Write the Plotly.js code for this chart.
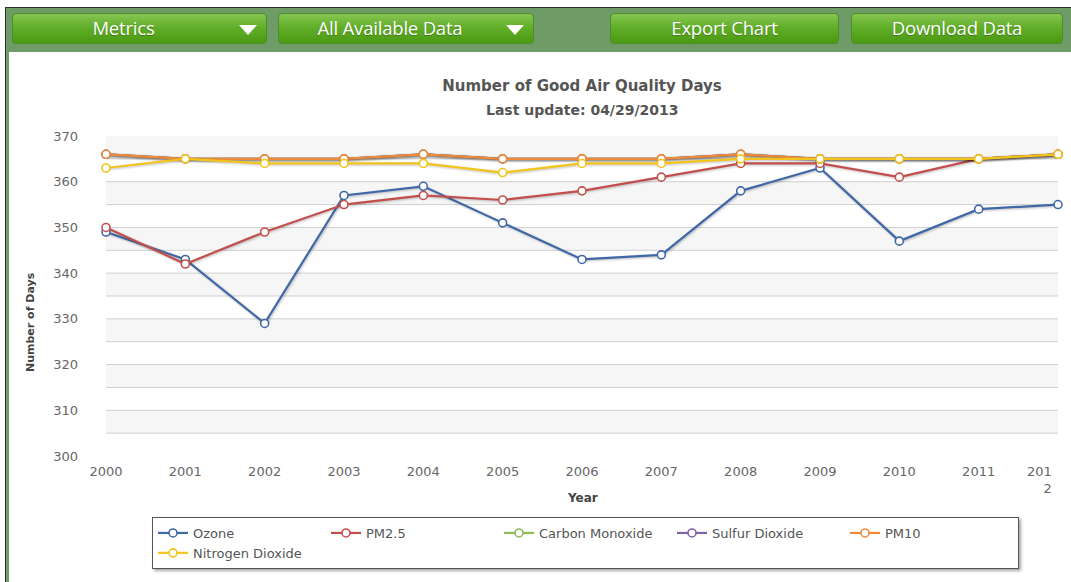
<!DOCTYPE html>
<html>
<head>
<meta charset="utf-8">
<script src="https://cdn.plot.ly/plotly-3.0.1.min.js"></script>
<style>
  html, body { margin:0; padding:0; background:#fff; width:1071px; height:582px; overflow:hidden; }
  #bar { position:absolute; left:5px; top:7px; width:1066px; height:45px; background:#6f9b66;
         border-top:1px solid #2b2b2b; border-left:1px solid #2b2b2b; z-index:2; box-sizing:border-box; }
  #leftline { position:absolute; left:5px; top:52px; width:4px; height:530px; background:#6f9b66;
              border-left:1px solid #2b2b2b; box-sizing:border-box; z-index:2; }
  .btn { position:absolute; top:13px; height:31px; border-radius:4px; box-sizing:border-box;
         background:linear-gradient(to bottom, #86c652 0%, #62ae2a 45%, #4b9a12 100%);
         border:1px solid #4d8c2a; color:#fff; font-family:"Open Sans", sans-serif; font-size:18.5px;
         line-height:27px; text-align:center; text-shadow:0 1px 1px rgba(0,0,0,0.25); z-index:3; letter-spacing:-0.2px; }
  .btn .arrow { position:absolute; right:9px; top:11px; width:0; height:0;
         border-left:9px solid transparent; border-right:9px solid transparent; border-top:10px solid #fff; }
  .btn .lbl { display:inline-block; }
  #chart { position:absolute; left:0; top:0; width:1071px; height:582px; z-index:1; }
  #chart .legend .bg { filter: drop-shadow(2px 2px 1.5px rgba(0,0,0,0.35)); }
  #chart .scatterlayer .js-line { filter: drop-shadow(1px 1px 1px rgba(0,0,0,0.25)); }
</style>
</head>
<body>
<div id="bar"></div>
<div id="leftline"></div>
<div class="btn" style="left:12px; width:255px;"><span class="lbl" style="margin-right:32px;">Metrics</span><span class="arrow"></span></div>
<div class="btn" style="left:278px; width:256px;"><span class="lbl" style="margin-right:32px;">All Available Data</span><span class="arrow"></span></div>
<div class="btn" style="left:610px; width:229px;"><span class="lbl">Export Chart</span></div>
<div class="btn" style="left:851px; width:212px;"><span class="lbl">Download Data</span></div>
<div id="chart"></div>
<script>
// ---- data ----
const years = [2000, 2001, 2002, 2003, 2004, 2005, 2006, 2007, 2008, 2009, 2010, 2011, 2012];
const yearLabels = ["2000", "2001", "2002", "2003", "2004", "2005", "2006", "2007", "2008", "2009", "2010", "2011", "201<br>2"];
const ozone           = [349, 343, 329, 357, 359, 351, 343, 344, 358, 363, 347, 354, 355];
const pm25            = [350, 342, 349, 355, 357, 356, 358, 361, 364, 364, 361, 365, 366];
const carbonMonoxide  = [366, 365, 365, 365, 366, 365, 365, 365, 366, 365, 365, 365, 366];
const sulfurDioxide   = [366, 365, 365, 365, 366, 365, 365, 365, 366, 365, 365, 365, 366];
const pm10            = [366, 365, 365, 365, 366, 365, 365, 365, 366, 365, 365, 365, 366];
const nitrogenDioxide = [363, 365, 364, 364, 364, 362, 364, 364, 365, 365, 365, 365, 366];
const yTicks = [300, 310, 320, 330, 340, 350, 360, 370];
const seriesNames = ["Ozone", "PM2.5", "Carbon Monoxide", "Sulfur Dioxide", "PM10", "Nitrogen Dioxide"];

const seriesData = [ozone, pm25, carbonMonoxide, sulfurDioxide, pm10, nitrogenDioxide];
const colors = ["#4068a6", "#c24f4c", "#8dbb55", "#7f64a6", "#f08a3a", "#f2c41c"];

const traces = seriesData.map((vals, i) => ({
  type: "scatter", mode: "lines+markers", name: seriesNames[i],
  x: years, y: vals, cliponaxis: false,
  line: { color: colors[i], width: 2.2 },
  marker: { symbol: "circle", size: 8, color: "#ffffff", line: { color: colors[i], width: 1.6 } },
  hoverinfo: "x+y+name"
}));

// alternate bands + grid lines (axis styling)
const shapes = [];
const gridMin = 305, gridMax = 370, step = 5;
for (let v = gridMin, k = 0; v < gridMax; v += step, k++) {
  if (k % 2 === 0) {
    shapes.push({ type: "rect", xref: "paper", yref: "y", x0: 0, x1: 1, y0: v, y1: v + step,
                  fillcolor: "#f6f6f6", line: { width: 0 }, layer: "below" });
  }
}
for (let v = gridMin; v < gridMax; v += step) {
  shapes.push({ type: "line", xref: "paper", yref: "y", x0: 0, x1: 1, y0: v, y1: v,
                line: { color: "#cfcfcf", width: 1 }, layer: "below" });
}

const tickFont = { family: "DejaVu Sans, Verdana, sans-serif", size: 13, color: "#666666" };
const boldFont = { family: "DejaVu Sans, Verdana, sans-serif", size: 12, color: "#444444", weight: "bold" };

const layout = {
  width: 1071, height: 582,
  margin: { l: 106, r: 13, t: 136, b: 126 },
  paper_bgcolor: "rgba(0,0,0,0)", plot_bgcolor: "rgba(0,0,0,0)",
  showlegend: true,
  title: {
    text: "<b>Number of Good Air Quality Days</b>",
    font: { family: "DejaVu Sans, Verdana, sans-serif", size: 15, color: "#555555" },
    xref: "paper", x: 0.5, xanchor: "center",
    yref: "container", y: 1 - 86 / 582, yanchor: "middle"
  },
  xaxis: {
    range: [2000, 2012], tickmode: "array", tickvals: years,
    ticktext: yearLabels.map((t, i) => i === years.length - 1 ? "" : t),
    showgrid: false, zeroline: false, showline: false, ticks: "",
    tickfont: tickFont, ticklabelstandoff: 6, fixedrange: true
  },
  yaxis: {
    range: [300, 370], tickmode: "array", tickvals: yTicks, ticktext: yTicks.map(String),
    showgrid: false, zeroline: false, showline: false, ticks: "",
    tickfont: tickFont, ticklabelstandoff: 27, fixedrange: true
  },
  shapes: shapes,
  annotations: [
    { text: "<b>Last update: 04/29/2013</b>", xref: "paper", yref: "paper", x: 0.5, y: (456 - 110) / 320,
      xanchor: "center", yanchor: "middle", showarrow: false,
      font: { family: "DejaVu Sans, Verdana, sans-serif", size: 14, color: "#555555" } },
    { text: "<b>Number of Days</b>", xref: "paper", yref: "paper", x: (30 - 106) / 952, y: (456 - 322) / 320,
      xanchor: "center", yanchor: "middle", textangle: -90, showarrow: false,
      font: { family: "DejaVu Sans, Verdana, sans-serif", size: 11, color: "#444444", weight: "bold" } },
    { text: "<b>Year</b>", xref: "paper", yref: "paper", x: (582 - 106) / 952, y: (456 - 498) / 320,
      xanchor: "center", yanchor: "middle", showarrow: false, font: boldFont },
    { text: yearLabels[years.length - 1], xref: "x", yref: "paper", x: years[years.length - 1], y: (456 - 462) / 320,
      xanchor: "right", yanchor: "top", align: "right", xshift: -4, showarrow: false, font: tickFont }
  ],
  legend: {
    orientation: "h", x: (152 - 106) / 952, xanchor: "left", y: (456 - 517) / 320, yanchor: "top",
    entrywidth: 128, entrywidthmode: "pixels", itemwidth: 30,
    bgcolor: "#ffffff", bordercolor: "#555555", borderwidth: 1,
    font: { family: "DejaVu Sans, Verdana, sans-serif", size: 13, color: "#555555" }
  }
};

Plotly.newPlot("chart", traces, layout, { displayModeBar: false });
</script>
</body>
</html>
